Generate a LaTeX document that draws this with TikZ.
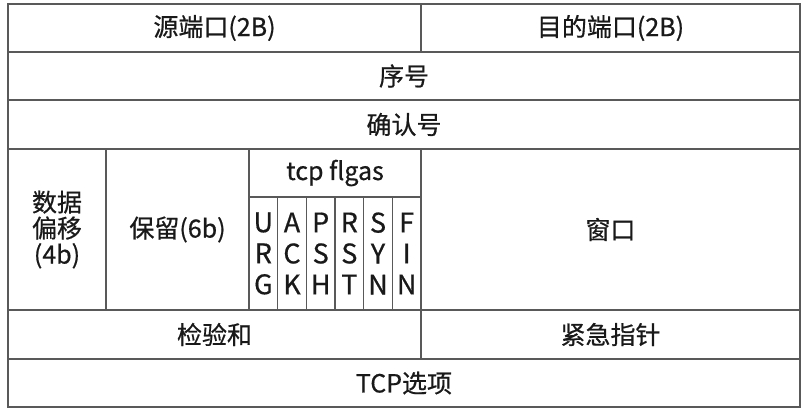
\documentclass[tikz,border=0pt]{standalone}
\usepackage{fontspec}
\setmainfont{Noto Sans CJK SC}[AutoFakeBold=0.6]
\usetikzlibrary{positioning}

\begin{document}
\begin{tikzpicture}[x=1pt, y=-1pt,
    cell/.style={rectangle, draw=black!65, line width=1.1pt, inner sep=0pt, outer sep=0pt,
                 anchor=north west, align=center, text=black!90,
                 font=\fontsize{25}{26}\selectfont\bfseries},
    flagcell/.style={cell, font=\fontsize{27}{31}\selectfont\bfseries}]
    \useasboundingbox (0,0) rectangle (809,415);
    % row 1: ports
    \node [cell, minimum width=413pt, minimum height=48pt] (srcport) at (8,4) {源端口(2B)};
    \node [cell, minimum width=379pt, minimum height=48pt] (dstport) at (421,4) {目的端口(2B)};
    % rows 2-3
    \node [cell, minimum width=792pt, minimum height=48pt] (seqnum) at (8,52) {序号};
    \node [cell, minimum width=792pt, minimum height=49pt] (acknum) at (8,100) {确认号};
    % row 4: offset, reserved, flags, window
    \node [cell, minimum width=98pt, minimum height=161pt] (offset) at (8,149) {数据\\偏移\\(4b)};
    \node [cell, minimum width=143pt, minimum height=161pt] (reserved) at (106,149) {保留(6b)};
    \node [cell, minimum width=172pt, minimum height=48pt] (flagtitle) at (249,149) {tcp flgas};
    \node [flagcell, minimum width=28.67pt, minimum height=113pt] (urg) at (249,197) {U\\R\\G};
    \node [flagcell, minimum width=28.67pt, minimum height=113pt] (ack) at (277.67,197) {A\\C\\K};
    \node [flagcell, minimum width=28.67pt, minimum height=113pt] (psh) at (306.33,197) {P\\S\\H};
    \node [flagcell, minimum width=28.67pt, minimum height=113pt] (rst) at (335,197) {R\\S\\T};
    \node [flagcell, minimum width=28.67pt, minimum height=113pt] (syn) at (363.67,197) {S\\Y\\N};
    \node [flagcell, minimum width=28.67pt, minimum height=113pt] (fin) at (392.33,197) {F\\I\\N};
    \node [cell, minimum width=379pt, minimum height=161pt] (window) at (421,149) {窗口};
    % row 5: checksum, urgent pointer
    \node [cell, minimum width=413pt, minimum height=49pt] (checksum) at (8,310) {检验和};
    \node [cell, minimum width=379pt, minimum height=49pt] (urgptr) at (421,310) {紧急指针};
    % row 6: options
    \node [cell, minimum width=792pt, minimum height=48pt] (options) at (8,359) {TCP选项};
\end{tikzpicture}
\end{document}
